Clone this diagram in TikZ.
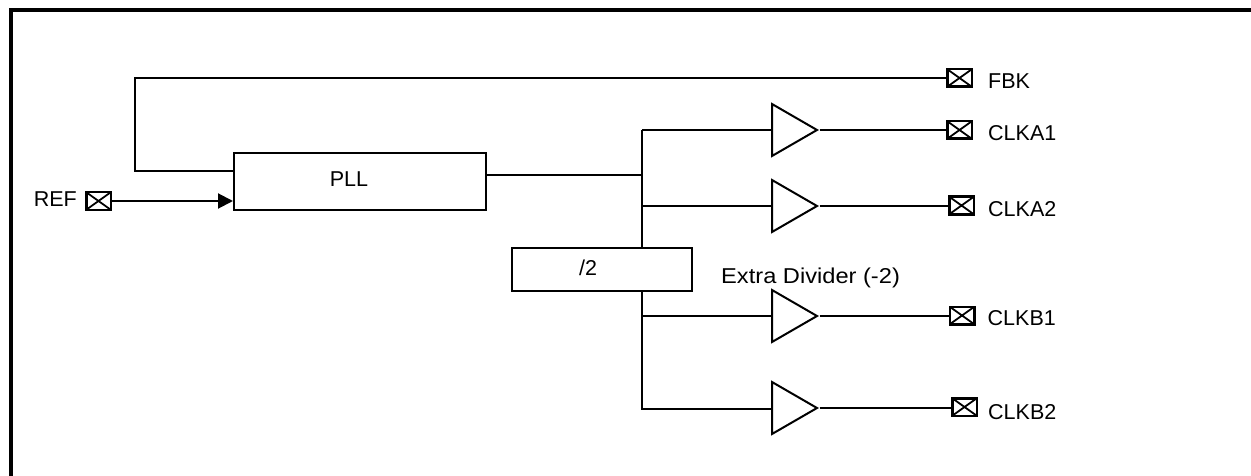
\documentclass[tikz,border=0pt]{standalone}
\usepackage{fontspec}
\setmainfont{Liberation Sans}
\usepackage{graphicx}
\usepackage{tikz}
\usetikzlibrary{positioning,shapes.geometric,arrows.meta}

\tikzset{
  wire/.style={line width=2pt},
  blk/.style={draw, line width=2pt, inner sep=0pt},
  buf/.style={draw, line width=2pt, isosceles triangle, isosceles triangle stretches,
    inner sep=0pt, minimum width=52pt, minimum height=45pt, anchor=west},
  pad/.style={draw, line width=2.5pt, inner sep=0pt, minimum width=24.5pt, minimum height=17.5pt,
    path picture={\draw[line width=1.8pt]
      (path picture bounding box.north west) -- (path picture bounding box.south east)
      (path picture bounding box.south west) -- (path picture bounding box.north east);}},
  lbl/.style={font=\fontsize{21.5}{25}\selectfont, inner sep=0pt},
}

\begin{document}
\begin{tikzpicture}[x=1pt,y=-1pt]
\clip (0,0) rectangle (1251,476);
\draw [line width=4pt] (10.5,480) -- (10.5,10.5) -- (1260,10.5);

\node (pll) [blk, minimum width=252pt, minimum height=57pt,
  label={[lbl,xshift=-11pt,yshift=2pt]center:PLL}] at (360,181.5) {};
\node (div) [blk, minimum width=180pt, minimum height=43pt,
  label={[lbl,xshift=-14pt,yshift=1.5pt]center:/2}] at (602,269.5) {};
\node (xdiv) [lbl, anchor=base west] at (721,283) {\scalebox{1.1}[1]{Extra Divider (-2)}};

% pads
\node (pREF) [pad] at (98.5,201) {};
\node (pFBK) [pad] at (959.5,78) {};
\node (pA1) [pad] at (959.5,130) {};
\node (pA2) [pad] at (961.5,205.5) {};
\node (pB1) [pad] at (962,315.5) {};
\node (pB2) [pad] at (964.5,407) {};

\node (tREF) [lbl, left=8pt of pREF, yshift=1.5pt] {REF};
\node (tFBK) [lbl, right=15pt of pFBK, yshift=-3pt] {FBK};
\node (tA1) [lbl, right=15pt of pA1, yshift=-3.5pt] {CLKA1};
\node (tA2) [lbl, right=13pt of pA2, yshift=-3.5pt] {CLKA2};
\node (tB1) [lbl, right=12pt of pB1, yshift=-2.5pt] {CLKB1};
\node (tB2) [lbl, right=10pt of pB2, yshift=-5.5pt] {CLKB2};

% buffers
\node (bA1) [buf] at (771,130) {};
\node (bA2) [buf] at (771,206) {};
\node (bB1) [buf] at (771,316) {};
\node (bB2) [buf] at (771,408) {};

\coordinate (jA) at (642,175);
\coordinate (fbc) at (135,78);

\draw [wire, -{Triangle[length=15pt,width=15pt]}] (pREF.east) -- (pREF.east -| pll.west);
\draw [wire] ([yshift=10.5pt]pll.west) -| (fbc) -- (pFBK.west);
\draw [wire] (pll.east |- jA) -- (jA);
\draw [wire] (bA1.west -| jA) -- (div.north -| jA);
\draw [wire] (bA1.west -| jA) -- (bA1.west);
\draw [wire] (bA2.west -| jA) -- (bA2.west);
\draw [wire] (div.south -| jA) |- ([yshift=-1pt]bB2.west);
\draw [wire] (bB1.west -| jA) -- (bB1.west);

\draw [wire] (bA1.apex) -- (bA1.apex -| pA1.west);
\draw [wire] (bA2.apex) -- (bA2.apex -| pA2.west);
\draw [wire] (bB1.apex) -- (bB1.apex -| pB1.west);
\draw [wire] (bB2.apex) -- (bB2.apex -| pB2.west);
\end{tikzpicture}
\end{document}
